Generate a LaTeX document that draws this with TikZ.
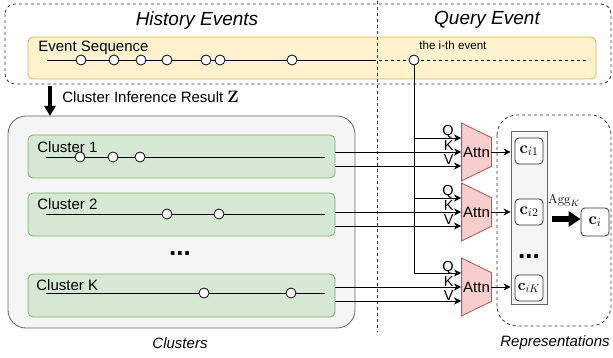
\RequirePackage{fix-cm}
\documentclass[tikz,border=0pt]{standalone}
\usepackage[no-math]{fontspec}
\usepackage{graphicx}
\setmainfont{Liberation Sans}
\usetikzlibrary{shapes}
\usetikzlibrary{positioning}
\usetikzlibrary{arrows.meta}

\definecolor{seqfill}{HTML}{FFF2CC}
\definecolor{seqdraw}{HTML}{D6B656}
\definecolor{clfill}{HTML}{D5E8D4}
\definecolor{cldraw}{HTML}{82B366}
\definecolor{grpfill}{HTML}{F5F5F5}
\definecolor{grpdraw}{HTML}{666666}
\definecolor{attfill}{HTML}{F8CECC}
\definecolor{attdraw}{HTML}{B85450}

\begin{document}
\begin{tikzpicture}[
    x=1pt, y=-1pt,
    thick,
    font=\fontsize{15}{18}\selectfont
]
\tikzset{
    evnode/.style = {circle, draw=black, fill=white, minimum size=10pt, inner sep=0pt},
    seqbox/.style = {rectangle, rounded corners=5pt, draw=seqdraw, fill=seqfill, minimum width=568pt, minimum height=42pt},
    clbox/.style = {rectangle, rounded corners=5pt, draw=cldraw, fill=clfill, minimum width=307pt, minimum height=43pt},
    grpbox/.style = {rectangle, rounded corners=18pt, draw=grpdraw, fill=grpfill},
    attnbox/.style = {rectangle, minimum width=29pt, minimum height=57pt, inner sep=0pt},
    attshape/.style = {draw=attdraw, fill=attfill},
    repbox/.style = {rectangle, rounded corners=4pt, draw=black!80, fill=white, minimum width=28pt, minimum height=26pt, inner sep=0pt},
    head/.style = {font=\fontsize{19}{22}\selectfont\itshape},
    qkv/.style = {anchor=base east, inner sep=0pt, font=\fontsize{14.5}{16}\selectfont},
    dashfr/.style = {dashed, draw=black!80},
    arr/.style = {-{Stealth[length=7pt,width=7pt]}},
    bigarr/.style = {line width=4pt, -{Triangle[length=10pt,width=11pt]}},
    dotsn/.style = {font=\fontsize{26}{28}\selectfont\bfseries, inner sep=0pt}
}
\useasboundingbox (0,0) rectangle (613,358);

% history / query frame
\draw[dashfr, rounded corners=10pt] (5,4) rectangle (611,84);
\node[head, anchor=base] (hist) at (197,26) {History Events};
\node[head, anchor=base] (query) at (487,25) {Query Event};
\node[seqbox] (seq) at (312,58) {};
\draw[dashfr] (377,1) -- (377,332);
\node[anchor=base west, inner sep=0pt] (seqlab) at (38,52) {Event Sequence};
\coordinate (seqs) at (47,60);
\coordinate (seqm) at (373,60);
\coordinate (seqe) at (587,60);
\draw (seqs) -- (seqm);
\draw[dashed] (seqm) -- (seqe);
\foreach \x [count=\i] in {81,114,141,167,206,220,292}
    \node[evnode] (e\i) at (\x,60) {};
\node[evnode] (qev) at (414,60) {};
\node[anchor=base west, inner sep=0pt, font=\fontsize{11.6}{13}\selectfont] (qlab) at (419,50) {the i-th event};

% cluster inference
\coordinate (infs) at (50,86);
\coordinate (infe) at (50,116);
\draw[bigarr] (infs) -- (infe);
\node[anchor=base west, inner sep=0pt] (inflab) at (62,103) {Cluster Inference Result \scalebox{1.1}{$\mathbf{Z}$}};

% clusters
\node[grpbox, minimum width=347pt, minimum height=212pt] (clusters) at (181.5,222) {};
\node[anchor=base, inner sep=0pt] (clusterslab) at (180,348) {\itshape Clusters};
\node[clbox] (cl1) at (181.5,156.5) {};
\node[clbox] (cl2) at (181.5,214.5) {};
\node[clbox] (clk) at (181.5,295.5) {};
\node[anchor=base west, inner sep=0pt] (cl1lab) at (37,153) {Cluster 1};
\node[anchor=base west, inner sep=0pt] (cl2lab) at (37,210) {Cluster 2};
\node[anchor=base west, inner sep=0pt] (clklab) at (36,290) {Cluster K};
\draw (46,157) -- (325,157);
\draw (46,214) -- (325,214);
\draw (46,293) -- (325,293);
\foreach \x [count=\i] in {80,113,140}
    \node[evnode] (a\i) at (\x,157) {};
\foreach \x [count=\i] in {167,219}
    \node[evnode] (b\i) at (\x,214) {};
\foreach \x [count=\i] in {204,291}
    \node[evnode] (k\i) at (\x,293) {};
\node[dotsn] (cldots) at (180,254) {...};

% attention
\foreach \n/\y in {1/152,2/212,3/287} {
    \node[attnbox] (attn\n) at (476.5,\y) {};
    \filldraw[attshape] (attn\n.north west) -- ([yshift=-14.5pt]attn\n.north east)
        -- ([yshift=14.5pt]attn\n.south east) -- (attn\n.south west) -- cycle;
    \node (attnlab\n) at (attn\n) {Attn};
    \coordinate (q\n) at (461,\y-14);
    \coordinate (k\n) at (461,\y);
    \coordinate (v\n) at (461,\y+14);
    \node[qkv] (ql\n) at (454,\y-16) {Q};
    \node[qkv] (kl\n) at (454,\y-1) {K};
    \node[qkv] (vl\n) at (454,\y+13) {V};
    \draw[arr] (qev) |- (q\n);
}
\draw[arr] (cl1.east |- k1) -- (k1);
\draw[arr] (cl1.east |- v1) -- (v1);
\draw[arr] (cl2.east |- k2) -- (k2);
\draw[arr] (cl2.east |- v2) -- (v2);
\draw[arr] (clk.east |- k3) -- (k3);
\draw[arr] (clk.east |- v3) -- (v3);

% representations
\draw[dashfr, rounded corners=20pt] (497,115) rectangle (611,326);
\node[anchor=base, inner sep=0pt] (replab) at (555,346) {\itshape Representations};
\node[rectangle, draw=grpdraw, fill=grpfill, minimum width=36pt, minimum height=173pt] (col) at (529,217.5) {};
\node[repbox] (c1) at (529,151) {\scalebox{1.12}{$\mathbf{c}_{i1}$}};
\node[repbox] (c2) at (529,212) {\scalebox{1.12}{$\mathbf{c}_{i2}$}};
\node[repbox] (c3) at (529,288) {\scalebox{1.05}{$\mathbf{c}_{iK}$}};
\node[dotsn] (repdots) at (529,257) {...};
\draw[arr] (attn1.east) -- (attn1.east -| col.west);
\draw[arr] (attn2.east) -- (attn2.east -| col.west);
\draw[arr] (attn3.east) -- (attn3.east -| col.west);
\node[repbox, minimum height=28pt] (ci) at (595,222) {\scalebox{1.12}{$\mathbf{c}_{i}$}};
\coordinate (aggs) at (552,219);
\draw[line width=6pt, -{Triangle[length=12pt,width=15pt]}] (aggs) -- (ci.west |- aggs);
\node[font=\fontsize{13}{15}\selectfont, inner sep=0pt] (agg) at (564,201) {$\mathrm{Agg}_K$};
\end{tikzpicture}
\end{document}
